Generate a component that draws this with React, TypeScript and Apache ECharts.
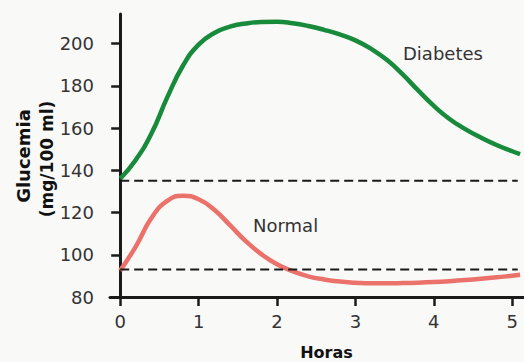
import React, { useEffect, useRef } from "react";
import * as echarts from "echarts";

const hours = [0, 0.2, 0.4, 0.6, 0.8, 1.0, 1.2, 1.4, 1.6, 1.8, 2.0, 2.2, 2.4, 2.6, 2.8, 3.0, 3.2, 3.4, 3.6, 3.8, 4.0, 4.2, 4.4, 4.6, 4.8, 5.0, 5.1];
const diabetesGlucose = [136, 145, 157.5, 174.5, 189.5, 199.5, 205, 208, 209.5, 210.2, 210.3, 209.6, 208.3, 206.5, 204.3, 201.5, 197.5, 192.3, 185.5, 177.8, 170.5, 164.3, 159.5, 155.5, 152, 149, 147.6];
const normalGlucose = [92.5, 104, 117.5, 125.5, 128, 126.3, 121.3, 114, 106.5, 100.3, 95.5, 92.2, 89.8, 88.3, 87.3, 86.8, 86.5, 86.5, 86.6, 86.8, 87.1, 87.5, 88, 88.6, 89.3, 90.1, 90.5];
const xTicks = [0, 1, 2, 3, 4, 5];
const yTicks = [80, 100, 120, 140, 160, 180, 200];
const diabetesThreshold = 135;
const normalThreshold = 93;
const thresholdSpan = [0, 5.07];
const xRange = [-0.13, 5.15];
const yRange = [80, 214];

export default function App() {
  const ref = useRef<HTMLDivElement>(null);
  useEffect(() => {
    const chart = echarts.init(ref.current!, null, { renderer: "svg" });
    const font = "DejaVu Sans";
    const axisColor = "#1a1a1a";
    chart.setOption({
      animation: false,
      backgroundColor: "#f9f9f8",
      grid: { left: 110, right: 0, top: 14, bottom: 65 },
      xAxis: {
        type: "value",
        min: xRange[0],
        max: xRange[1],
        axisLine: { show: true, onZero: false, lineStyle: { color: axisColor, width: 3 } },
        axisTick: { show: true, customValues: xTicks, length: 9, lineStyle: { color: axisColor, width: 2.5 } },
        axisLabel: { customValues: xTicks, margin: 15, fontFamily: font, fontSize: 18, color: "#333" },
        splitLine: { show: false },
      },
      yAxis: {
        type: "value",
        min: yRange[0],
        max: yRange[1],
        axisLine: { show: true, onZero: true, lineStyle: { color: axisColor, width: 3 } },
        axisTick: { show: true, customValues: yTicks, length: 9, lineStyle: { color: axisColor, width: 2.5 } },
        axisLabel: { customValues: yTicks, margin: 16, fontFamily: font, fontSize: 18, color: "#333" },
        splitLine: { show: false },
      },
      series: [
        {
          type: "line",
          name: "Diabetes",
          data: hours.map((h, i) => [h, diabetesGlucose[i]]),
          smooth: 0.5,
          showSymbol: false,
          symbol: "none",
          lineStyle: { color: "#178a3c", width: 4.5 },
          z: 2,
        },
        {
          type: "line",
          name: "Normal",
          data: hours.map((h, i) => [h, normalGlucose[i]]),
          smooth: 0.5,
          showSymbol: false,
          symbol: "none",
          lineStyle: { color: "#eb716b", width: 4.5 },
          z: 2,
        },
        {
          type: "line",
          data: thresholdSpan.map((h) => [h, diabetesThreshold]),
          symbol: "none",
          lineStyle: { color: "#1a1a1a", width: 2, type: [9, 5] },
          z: 3,
        },
        {
          type: "line",
          data: thresholdSpan.map((h) => [h, normalThreshold]),
          symbol: "none",
          lineStyle: { color: "#1a1a1a", width: 2, type: [9, 5] },
          z: 3,
        },
      ],
      graphic: [
        { type: "text", x: 403, y: 53.5, style: { text: "Diabetes", font: `18px '${font}'`, fill: "#333", textAlign: "left", textVerticalAlign: "middle" } },
        { type: "text", x: 253, y: 225.5, style: { text: "Normal", font: `18px '${font}'`, fill: "#333", textAlign: "left", textVerticalAlign: "middle" } },
        { type: "text", x: 326.5, y: 352, style: { text: "Horas", font: `bold 16px '${font}'`, fill: "#111", textAlign: "center", textVerticalAlign: "middle" } },
        { type: "text", x: 23, y: 156, rotation: Math.PI / 2, style: { text: "Glucemia", font: `bold 18px '${font}'`, fill: "#111", textAlign: "center", textVerticalAlign: "middle" } },
        { type: "text", x: 47, y: 159, rotation: Math.PI / 2, style: { text: "(mg/100 ml)", font: `bold 17px '${font}'`, fill: "#111", textAlign: "center", textVerticalAlign: "middle" } },
      ],
    });
    return () => chart.dispose();
  }, []);
  return <div ref={ref} style={{ position: "fixed", left: 0, top: 0, width: 524, height: 362 }} />;
}
